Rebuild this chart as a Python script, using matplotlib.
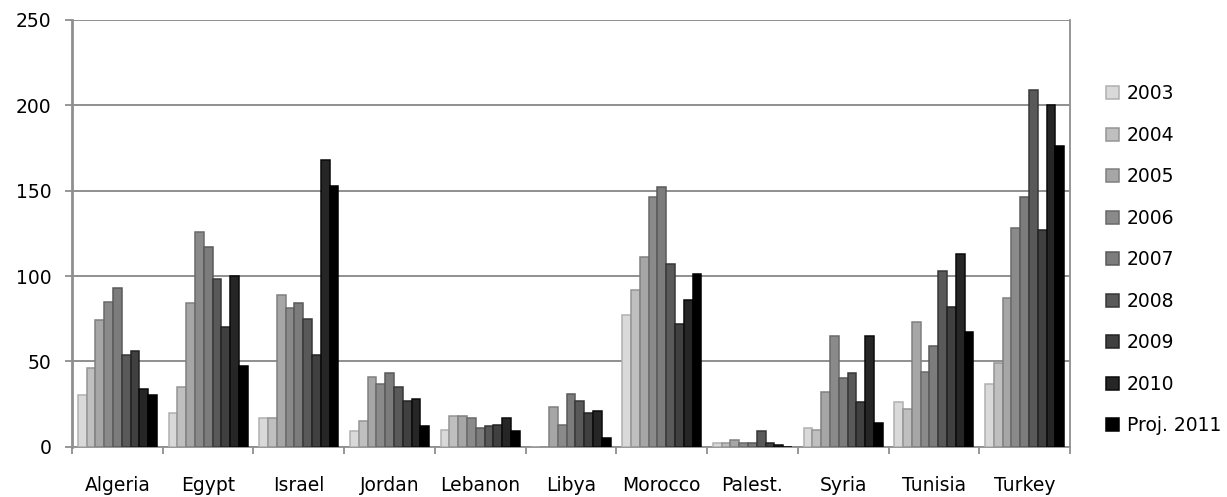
import numpy as np
import matplotlib
matplotlib.use("Agg")
import matplotlib.pyplot as plt

countries = ["Algeria", "Egypt", "Israel", "Jordan", "Lebanon", "Libya",
             "Morocco", "Palest.", "Syria", "Tunisia", "Turkey"]
years = ["2003", "2004", "2005", "2006", "2007", "2008", "2009", "2010",
         "Proj. 2011"]

# one list per country, values for 2003 .. projected 2011
algeria = [30, 46, 74, 85, 93, 54, 56, 34, 30]
egypt = [20, 35, 84, 126, 117, 98, 70, 100, 47]
israel = [17, 17, 89, 81, 84, 75, 54, 168, 153]
jordan = [9, 15, 41, 37, 43, 35, 27, 28, 12]
lebanon = [10, 18, 18, 17, 11, 12, 13, 17, 9]
libya = [0, 0, 23, 13, 31, 27, 20, 21, 5]
morocco = [77, 92, 111, 146, 152, 107, 72, 86, 101]
palestine = [2, 2, 4, 2, 2, 9, 2, 1, 0]
syria = [11, 10, 32, 65, 40, 43, 26, 65, 14]
tunisia = [26, 22, 73, 44, 59, 103, 82, 113, 67]
turkey = [37, 49, 87, 128, 146, 209, 127, 200, 176]

values = np.array([algeria, egypt, israel, jordan, lebanon, libya, morocco,
                   palestine, syria, tunisia, turkey])

faces = ["#d9d9d9", "#bfbfbf", "#a6a6a6", "#8a8a8a", "#7c7c7c",
         "#595959", "#404040", "#262626", "#000000"]
edges = ["#b0b0b0", "#959595", "#808080", "#6a6a6a", "#5a5a5a",
         "#383838", "#232323", "#0a0a0a", "#000000"]

plt.rcParams["font.family"] = ["DejaVu Sans"]

fig = plt.figure(figsize=(12.27, 4.97), dpi=100)
ax = fig.add_axes([0.0587, 0.1012, 0.8133, 0.8586])

x = np.arange(len(countries))
n = len(years)
w = 0.097
for i in range(n):
    ax.bar(x + (i - (n - 1) / 2) * w, values[:, i], width=w,
           color=faces[i], edgecolor=edges[i], linewidth=1.1,
           label=years[i], zorder=3)

ax.set_xlim(-0.5, len(countries) - 0.5)
ax.set_ylim(0, 250)
ax.set_yticks(range(0, 251, 50))
ax.yaxis.grid(True, color="#8f8f8f", linewidth=1.4, zorder=0)

ax.set_xticks(x)
ax.set_xticklabels(countries)
ax.set_xticks(np.arange(-0.5, len(countries), 1), minor=True)
ax.tick_params(axis="x", which="major", length=0, pad=21, labelsize=13.5)
ax.tick_params(axis="x", which="minor", length=5, width=1.3,
               color="#8f8f8f")
ax.tick_params(axis="y", length=5, width=1.3, color="#8f8f8f",
               pad=10, labelsize=13.5)

for side in ["left", "bottom", "right", "top"]:
    ax.spines[side].set_color("#8f8f8f")
    ax.spines[side].set_linewidth(1.3)
ax.spines["left"].set_linewidth(2)
ax.spines["top"].set_visible(False)

fig.legend(loc="center left", bbox_to_anchor=(0.9013, 0.477),
           frameon=False, fontsize=13.5, handlelength=0.7, handleheight=0.7,
           handletextpad=0.4, labelspacing=1.2, borderpad=0,
           borderaxespad=0)

fig.savefig("out.png", dpi=100)
plt.close(fig)
